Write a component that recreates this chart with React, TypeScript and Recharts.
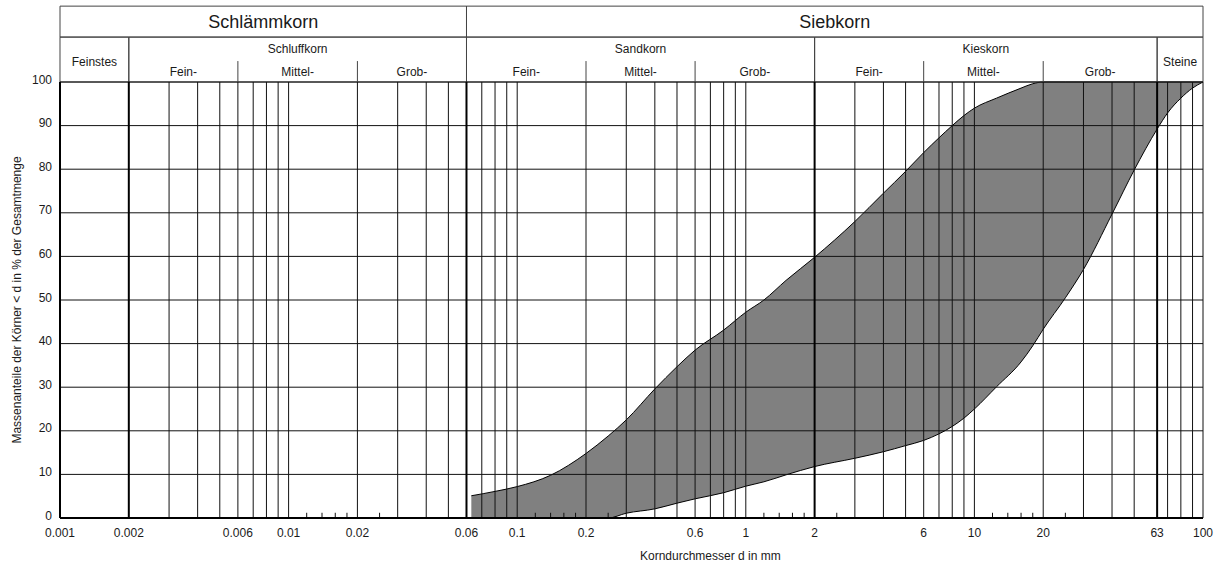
import React from 'react';
import { ComposedChart, Area, XAxis, YAxis, ReferenceLine, ReferenceArea } from 'recharts';

// Sieve sizes (mm) and percent passing for the limits of the grading band
const sieveSizes = [0.063, 0.08, 0.1, 0.14, 0.2, 0.25, 0.3, 0.4, 0.5, 0.6, 0.8, 1, 1.2, 1.5, 2, 3, 4, 5, 6, 7, 8, 9, 10, 12.5, 16, 18, 20, 25, 30, 40, 50, 63, 70, 80, 90, 100];
const upperPassing = [5.1, 6.1, 7.2, 9.8, 14.8, 18.8, 22.5, 29.6, 34.7, 38.5, 43.1, 47.2, 50, 54.5, 59.8, 68, 74.5, 79.5, 83.8, 87.2, 90, 92.3, 94, 96.3, 98.6, 99.6, 100, 100, 100, 100, 100, 100, 100, 100, 100, 100];
const lowerPassing = [0, 0, 0, 0, 0, 0, 1.1, 2.1, 3.4, 4.4, 5.8, 7.3, 8.3, 9.9, 11.8, 13.7, 15.2, 16.6, 17.8, 19.3, 21.0, 22.9, 25.0, 30.1, 35.8, 39.5, 43.3, 50.5, 57, 69.7, 79.8, 89.2, 92.9, 96.3, 98.6, 100];

const xTicks = [0.001, 0.002, 0.006, 0.01, 0.02, 0.06, 0.1, 0.2, 0.6, 1, 2, 6, 10, 20, 63, 100];
const yTicks = [0, 10, 20, 30, 40, 50, 60, 70, 80, 90, 100];
const gridX = [0.003, 0.004, 0.005, 0.006, 0.007, 0.008, 0.009, 0.01, 0.02, 0.03, 0.04, 0.05, 0.07, 0.08, 0.09, 0.1, 0.2, 0.3, 0.4, 0.5, 0.6, 0.7, 0.8, 0.9, 1, 3, 4, 5, 6, 7, 8, 9, 10, 20, 30, 40, 50, 70, 80, 90, 100];
const gridXBold = [0.002, 0.06, 2, 63];
const minorTicks = [0.012, 0.014, 0.016, 0.018, 0.025, 0.12, 0.14, 0.16, 0.18, 0.25, 1.2, 1.4, 1.6, 1.8, 2.5, 12, 14, 16, 18, 25];

const mainGroups = [
  { name: 'Schlämmkorn', from: 0.001, to: 0.06 },
  { name: 'Siebkorn', from: 0.06, to: 100 },
];
const soilGroups = [
  { name: 'Feinstes', from: 0.001, to: 0.002, split: false },
  { name: 'Schluffkorn', from: 0.002, to: 0.06, split: true },
  { name: 'Sandkorn', from: 0.06, to: 2, split: true },
  { name: 'Kieskorn', from: 2, to: 63, split: true },
  { name: 'Steine', from: 63, to: 100, split: false },
];
const subGroups = [
  { name: 'Fein-', from: 0.002, to: 0.006 },
  { name: 'Mittel-', from: 0.006, to: 0.02 },
  { name: 'Grob-', from: 0.02, to: 0.06 },
  { name: 'Fein-', from: 0.06, to: 0.2 },
  { name: 'Mittel-', from: 0.2, to: 0.6 },
  { name: 'Grob-', from: 0.6, to: 2 },
  { name: 'Fein-', from: 2, to: 6 },
  { name: 'Mittel-', from: 6, to: 20 },
  { name: 'Grob-', from: 20, to: 63 },
];

// header rows, in % above the plot
const HEAD_TOP = 117.4;
const HEAD_ROW = 110.3;
const HEAD_SUB = 104.8;

const data = sieveSizes.map((d, i) => ({ d, range: [lowerPassing[i], upperPassing[i]] }));

const TXT = '#1a1a1a';
const LINE = '#111';
const HEAD = '#444';

const XTick = ({ x, y, payload }: any) => (
  <text x={x} y={y} dy={19} textAnchor="middle" fontSize={12} fill={TXT}>{String(payload.value)}</text>
);
const YTick = ({ x, y, payload }: any) => (
  <text x={x} y={y} dy={1.5} textAnchor="end" fontSize={12} fill={TXT}>{payload.value}</text>
);

const XTitle = ({ viewBox }: any) => (
  <text x={viewBox.x + 580} y={viewBox.y + 42} fontSize={12} fill={TXT}>Korndurchmesser d in mm</text>
);
const YTitle = ({ viewBox }: any) => {
  const cy = viewBox.y + viewBox.height / 2;
  return (
    <text x={21} y={cy} transform={`rotate(-90 21 ${cy})`} textAnchor="middle" fontSize={12} fill={TXT}>
      Massenanteile der Körner &lt; d in % der Gesamtmenge
    </text>
  );
};

export default function App() {
  return (
    <div style={{ position: 'absolute', left: 0, top: 0, width: 1230, height: 567, background: '#fff', fontFamily: '"Liberation Sans", Arial, sans-serif' }}>
      <ComposedChart width={1230} height={567} data={data} margin={{ top: 82, right: 27, left: 0, bottom: 0 }}>
        <XAxis
          dataKey="d"
          type="number"
          scale="log"
          domain={[0.001, 100]}
          allowDataOverflow
          ticks={xTicks}
          interval={0}
          height={49}
          tickSize={0}
          tickMargin={0}
          tick={<XTick />}
          tickLine={false}
          axisLine={{ stroke: '#000', strokeWidth: 2 }}
          label={{ content: <XTitle /> }}
        />
        <YAxis
          type="number"
          domain={[0, 100]}
          ticks={yTicks}
          interval={0}
          width={60}
          tickSize={0}
          tickMargin={8}
          tick={<YTick />}
          tickLine={false}
          axisLine={{ stroke: '#000', strokeWidth: 2 }}
          label={{ content: <YTitle /> }}
        />
        <Area
          type="monotone"
          dataKey="range"
          stroke="#000"
          strokeWidth={1}
          fill="#808080"
          fillOpacity={1}
          dot={false}
          activeDot={false}
          isAnimationActive={false}
        />
        {yTicks.filter((v) => v > 0).map((v) => (
          <ReferenceLine key={`h${v}`} y={v} stroke={LINE} strokeWidth={1} />
        ))}
        {gridX.map((v) => (
          <ReferenceLine key={`v${v}`} x={v} stroke={LINE} strokeWidth={1} />
        ))}
        {gridXBold.map((v) => (
          <ReferenceLine key={`b${v}`} x={v} stroke="#000" strokeWidth={2} />
        ))}
        {minorTicks.map((v) => (
          <ReferenceLine key={`m${v}`} segment={[{ x: v, y: 0 }, { x: v, y: 1.2 }]} stroke={LINE} strokeWidth={1} />
        ))}
        {mainGroups.map((g) => (
          <ReferenceArea
            key={g.name}
            x1={g.from}
            x2={g.to}
            y1={HEAD_ROW}
            y2={HEAD_TOP}
            ifOverflow="visible"
            fill="none"
            stroke={HEAD}
            strokeWidth={1}
            label={{ value: g.name, position: 'center', fontSize: 18, fill: TXT }}
          />
        ))}
        {soilGroups.map((g) => (
          <ReferenceArea
            key={g.name}
            x1={g.from}
            x2={g.to}
            y1={100}
            y2={HEAD_ROW}
            ifOverflow="visible"
            fill="none"
            stroke={HEAD}
            strokeWidth={1}
            label={g.split ? undefined : { value: g.name, position: 'center', fontSize: 12, fill: TXT, dy: 2 }}
          />
        ))}
        {soilGroups.filter((g) => g.split).map((g) => (
          <ReferenceArea
            key={`t${g.name}`}
            x1={g.from}
            x2={g.to}
            y1={HEAD_SUB}
            y2={HEAD_ROW}
            ifOverflow="visible"
            fill="none"
            stroke="none"
            label={{ value: g.name, position: 'center', fontSize: 12, fill: TXT }}
          />
        ))}
        {subGroups.map((g, i) => (
          <ReferenceArea
            key={`s${i}`}
            x1={g.from}
            x2={g.to}
            y1={100}
            y2={HEAD_SUB}
            ifOverflow="visible"
            fill="none"
            stroke="none"
            label={{ value: g.name, position: 'center', fontSize: 12, fill: TXT }}
          />
        ))}
        {subGroups.filter((g, i) => i % 3 !== 2).map((g, i) => (
          <ReferenceLine
            key={`d${i}`}
            segment={[{ x: g.to, y: 100 }, { x: g.to, y: HEAD_SUB }]}
            ifOverflow="visible"
            stroke={HEAD}
            strokeWidth={1}
          />
        ))}
      </ComposedChart>
    </div>
  );
}
